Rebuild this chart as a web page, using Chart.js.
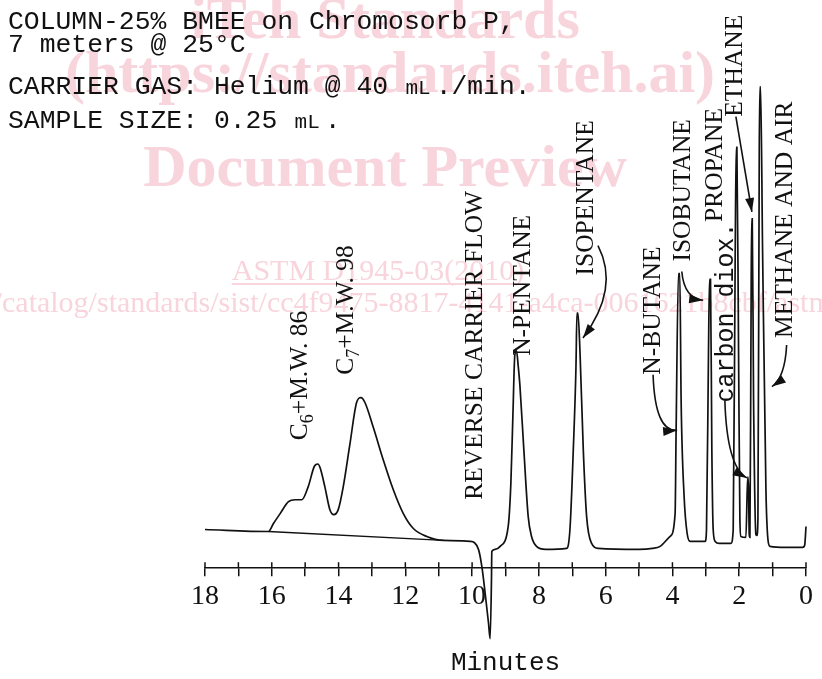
<!DOCTYPE html>
<html><head><meta charset="utf-8">
<script src="https://cdn.jsdelivr.net/npm/chart.js@4.4.1/dist/chart.umd.min.js"></script>
<style>html,body{margin:0;padding:0;background:#fff}#wrap{width:822px;height:679px;position:relative}</style>
</head><body><div id="wrap"><canvas id="c"></canvas></div>
<script>
// ---- data (minutes, detector response in arbitrary units) ----
const heavyTimes  = [18.00,16.10,15.95,15.75,15.50,15.30,15.10,14.91,14.72,14.62,14.55,14.41,14.26,14.14,14.01,13.86,13.66,13.46,13.33,13.21,12.96,12.66,12.36,12.06,11.76,11.36,10.86,10.06,9.81,9.71,9.61,9.51,9.46,9.42,9.41,9.31];
const heavySignal = [20,18,26,36,48,50,50,63,84,86,82,63,40,35,40,63,106,148,153,148,123,90,60,36,21,13,9,8,0,-17,-44,-74,-90,-30,-2,0];
const pentaneTimes  = [9.16,8.92,8.84,8.78,8.72,8.67,8.62,8.57,8.45,8.32,8.22,8.07,7.80,7.17,7.07,6.97,6.89,6.86,6.83,6.77,6.67,6.57,6.42,6.22,5.00];
const pentaneSignal = [3,23,66,133,196,200,185,166,100,33,13,3,0,1,20,100,183,238,238,200,100,33,6,1,0];
const butaneTimes  = [4.60,4.37,4.07,3.92,3.89,3.82,3.78,3.74,3.65,3.56,3.47,3.02,2.98,2.92,2.89,2.86,2.82,2.78,2.72,2.60,2.25];
const butaneSignal = [1,3,13,36,120,278,278,150,53,16,8,8,20,200,272,272,100,20,8,6,6];
const lightTimes  = [2.18,2.12,2.09,2.07,2.02,1.98,1.95,1.80,1.76,1.74,1.72,1.70,1.68,1.65,1.63,1.61,1.57,1.50,1.47,1.44,1.40,1.38,1.36,1.30,1.20,1.14,1.08,0.60,0.10,0.04,0.02,0.00];
const lightSignal = [20,300,405,405,200,30,13,12,60,73,60,15,12,200,333,333,150,15,14,30,400,466,466,300,60,10,3,2,2,4,12,23];
const baselineTimes  = [16.10,10.86];
const baselineSignal = [18,9];
const minuteLabels = [18,16,14,12,10,8,6,4,2,0];
const headerLines = [['COLUMN-25% BMEE on Chromosorb P,'],['7 meters @ 25\u00B0C'],['CARRIER GAS: Helium @ 40 ','mL','./min.'],['SAMPLE SIZE: 0.25 ','mL','.']];
const peakNames = ['REVERSE CARRIER FLOW','N-PENTANE','ISOPENTANE','N-BUTANE','ISOBUTANE','PROPANE','carbon diox.','ETHANE','METHANE AND AIR'];

// ---- build ----
function pts(t, s){ return t.map((v,i)=>({x:v,y:s[i]})); }
const trace = [].concat(pts(heavyTimes,heavySignal),pts(pentaneTimes,pentaneSignal),pts(butaneTimes,butaneSignal),pts(lightTimes,lightSignal));
const base = pts(baselineTimes,baselineSignal);

// label anchors in data coordinates [minutes, response] (baseline end of rotated text)
const labelAnchors = [[9.70,50],[8.27,195],[6.38,276],[4.37,176],[3.47,290],[2.52,330],[2.19,148],[1.92,436],[0.42,213]];
// arrows [start, control, end] in data coordinates
const arrows = [
  [[6.23,306],[5.57,263],[6.68,213]],
  [[4.58,176],[4.52,118],[3.86,120]],
  [[3.72,280],[3.65,253],[3.08,251]],
  [[2.10,436],[1.86,388],[1.62,340]],
  [[2.43,150],[2.37,83],[1.77,72]],
  [[0.58,206],[0.63,173],[1.02,164]]
];

const SERIF = '"Liberation Serif", "DejaVu Serif", serif';
const MONO = '"Liberation Mono", "DejaVu Sans Mono", monospace';

const bgPlugin = {
  id:'bg',
  beforeDraw(chart){
    const ctx = chart.ctx; ctx.save();
    ctx.fillStyle='#fff'; ctx.fillRect(0,0,chart.width,chart.height);
    // watermark
    ctx.fillStyle='rgb(248,212,220)'; ctx.textAlign='center'; ctx.textBaseline='alphabetic';
    ctx.font='bold 60px '+SERIF;
    ctx.fillText('iTeh Standards',385,38);
    ctx.fillText('(https://standards.iteh.ai)',390,92);
    ctx.fillText('Document Preview',385,186);
    ctx.font='30px '+SERIF;
    ctx.fillText('ASTM D1945-03(2010)',378,280);
    const w = ctx.measureText('ASTM D1945-03(2010)').width;
    ctx.fillRect(378-w/2,283,w,2);
    ctx.textAlign='left';
    const pre = 'https://standards.iteh.ai/';
    ctx.fillText(pre+'catalog/standards/sist/cc4f9475-8817-4141-a4ca-0061621b8cbf/astm-d1945-032010', -ctx.measureText(pre).width+2, 312);
    ctx.restore();
  }
};

function rotText(ctx, x, y, parts){
  ctx.save(); ctx.translate(x,y); ctx.rotate(-Math.PI/2);
  let pos=0;
  for(const p of parts){ ctx.font=p.font; ctx.fillText(p.t,pos,p.dy||0); pos+=ctx.measureText(p.t).width; }
  ctx.restore();
}

const annoPlugin = {
  id:'anno',
  afterDatasetsDraw(chart){
    const ctx=chart.ctx, xs=chart.scales.x, ys=chart.scales.y;
    const P=(a)=>[xs.getPixelForValue(a[0]), ys.getPixelForValue(a[1])];
    ctx.save();
    // upper halves of the axis tick marks
    ctx.strokeStyle='#111'; ctx.lineWidth=1.5;
    xs.ticks.forEach(tk=>{ const x=xs.getPixelForValue(tk.value); ctx.beginPath(); ctx.moveTo(x,xs.top-6); ctx.lineTo(x,xs.top); ctx.stroke(); });
    ctx.fillStyle='#111'; ctx.textBaseline='alphabetic'; ctx.textAlign='left';
    peakNames.forEach((n,i)=>{
      const [x,y]=P(labelAnchors[i]);
      const f = n==='carbon diox.' ? '25px '+MONO : '25.5px '+SERIF;
      rotText(ctx,x,y,[{t:n,font:f}]);
    });
    // C6 / C7 labels
    let [x6,y6]=P([14.94,110]);
    rotText(ctx,x6,y6,[{t:'C',font:'25.5px '+SERIF},{t:'6',font:'18px '+SERIF,dy:6},{t:'+M.W. 86',font:'25.5px '+SERIF}]);
    let [x7,y7]=P([13.57,176]);
    rotText(ctx,x7,y7,[{t:'C',font:'25.5px '+SERIF},{t:'7',font:'18px '+SERIF,dy:6},{t:'+M.W. 98',font:'25.5px '+SERIF}]);
    // arrows
    ctx.lineWidth=1.6;
    for(const a of arrows){
      const p0=P(a[0]), c=P(a[1]), p1=P(a[2]);
      ctx.beginPath(); ctx.moveTo(p0[0],p0[1]); ctx.quadraticCurveTo(c[0],c[1],p1[0],p1[1]); ctx.stroke();
      const ang=Math.atan2(p1[1]-c[1],p1[0]-c[0]);
      const L=14, W=4.5;
      ctx.beginPath();
      ctx.moveTo(p1[0],p1[1]);
      ctx.lineTo(p1[0]-L*Math.cos(ang)+W*Math.sin(ang), p1[1]-L*Math.sin(ang)-W*Math.cos(ang));
      ctx.lineTo(p1[0]-L*Math.cos(ang)-W*Math.sin(ang), p1[1]-L*Math.sin(ang)+W*Math.cos(ang));
      ctx.closePath(); ctx.fill();
    }
    // header (typewriter grid: fixed advance per character)
    const adv=15.84, ysH=[29,52,94,128];
    headerLines.forEach((parts,i)=>{
      let col=0;
      parts.forEach((p,j)=>{
        ctx.font = (p==='mL') ? '21px '+MONO : '26.4px '+MONO;
        ctx.fillText(p, 8+col*adv + (p==='mL'?1.5:0), ysH[i]);
        col+=p.length;
      });
    });
    ctx.restore();
  }
};

new Chart(document.getElementById('c'),{
  type:'line',
  data:{datasets:[
    {data:trace,borderColor:'#111',borderWidth:1.7,pointRadius:0,clip:false,cubicInterpolationMode:'monotone',fill:false},
    {data:base,borderColor:'#111',borderWidth:1.4,pointRadius:0,clip:false,tension:0,fill:false}
  ]},
  options:{
    responsive:true,maintainAspectRatio:false,animation:false,devicePixelRatio:1,
    layout:{padding:{left:205,right:16,top:80,bottom:0}},
    plugins:{legend:{display:false},tooltip:{enabled:false},title:{display:false}},
    scales:{
      x:{type:'linear',min:0,max:18,reverse:true,
        grid:{drawOnChartArea:false,drawTicks:true,tickLength:8,color:'#111',lineWidth:1.5},
        border:{display:true,color:'#111',width:1.5},
        ticks:{stepSize:1,autoSkip:false,maxRotation:0,padding:4,color:'#111',font:{family:SERIF,size:28},
          callback:(v)=>minuteLabels.includes(v)?String(v):''},
        title:{display:true,text:'Minutes',color:'#111',font:{family:MONO,size:26},padding:{top:30,bottom:0}}
      },
      y:{display:false,min:-19,max:473}
    }
  },
  plugins:[bgPlugin,annoPlugin]
});
</script></body></html>
